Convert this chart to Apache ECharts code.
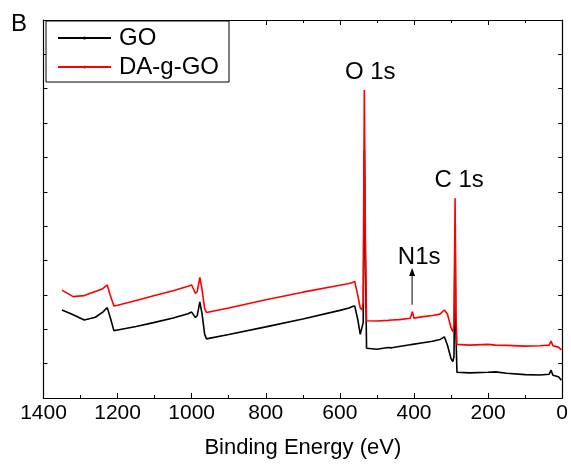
<!DOCTYPE html>
<html><head><meta charset="utf-8">
<script src="https://cdn.jsdelivr.net/npm/echarts@6/dist/echarts.min.js"></script>
<style>html,body{margin:0;padding:0;background:#fff}#c{width:571px;height:466px}</style>
</head><body><div id="c"></div>
<script>
const energy = [1350,1320,1290,1260,1240,1228,1220,1210,1200,1150,1100,1050,1010,1000,990,985,978,972,965,960,900,800,700,600,575,566,560,552,545,540,537,534,531,528,525,500,470,465,460,440,410,404,400,380,350,330,318,310,300,295,292,289,287,284,280,250,200,180,150,100,60,35,30,25,10,2];
const goVals = [2.56,2.42,2.27,2.35,2.50,2.63,2.35,1.96,1.98,2.08,2.20,2.33,2.45,2.50,2.34,2.40,2.80,2.45,1.85,1.72,1.85,2.07,2.30,2.55,2.62,2.66,2.68,2.30,1.85,1.80,2.2,7.2,4.0,1.45,1.40,1.42,1.47,1.52,1.46,1.50,1.55,1.56,1.56,1.60,1.65,1.70,1.78,1.55,1.15,1.06,1.2,5.0,2.0,0.75,0.72,0.73,0.75,0.76,0.72,0.68,0.67,0.69,0.81,0.66,0.62,0.52];
const daVals = [3.14,2.95,2.98,3.10,3.18,3.29,3.00,2.68,2.70,2.84,2.98,3.12,3.25,3.29,3.04,3.10,3.51,3.15,2.60,2.49,2.62,2.86,3.08,3.28,3.33,3.36,3.39,3.0,2.62,2.56,2.8,8.96,4.5,2.25,2.22,2.24,2.26,2.26,2.27,2.28,2.32,2.51,2.32,2.36,2.40,2.44,2.56,2.45,2.05,1.93,2.1,5.81,2.5,1.56,1.54,1.54,1.56,1.54,1.53,1.51,1.52,1.54,1.66,1.52,1.48,1.40];
const seriesNames = ['GO','DA-g-GO'];
const xTicks = [0,200,400,600,800,1000,1200,1400];
const annotations = [
  {text:'O 1s', x:518, y:9.49},
  {text:'C 1s', x:278, y:6.32},
  {text:'N1s', x:386, y:4.09}
];
const arrowFrom = [405, 2.71], arrowTo = [405, 3.78];

const FONT = 'Liberation Sans, Arial, sans-serif';
const chart = echarts.init(document.getElementById('c'));
const pair = v => energy.map((e,i)=>[e,v[i]]);
const axisCommon = {
  type:'value', min:0, max:1400, interval:200, inverse:true,
  axisLine:{show:true, onZero:false, lineStyle:{color:'#000', width:1.2}},
  axisTick:{show:true, inside:true, length:5, lineStyle:{color:'#000'}},
  minorTick:{show:true, splitNumber:2, length:3, lineStyle:{color:'#000'}},
  splitLine:{show:false}
};
const yCommon = {
  type:'value', min:0, max:11, interval:1,
  axisLine:{show:true, onZero:false, lineStyle:{color:'#000', width:1.2}},
  axisTick:{show:true, inside:true, length:4, lineStyle:{color:'#000'}},
  axisLabel:{show:false}, splitLine:{show:false}
};
chart.setOption({
  animation:false,
  backgroundColor:'#fff',
  grid:{left:43.5, right:8, top:20, bottom:68},
  xAxis:[
    Object.assign({}, axisCommon, {position:'bottom',
      axisLabel:{fontSize:21, color:'#000', fontFamily:FONT, margin:5, formatter:v=>String(v)},
      name:'Binding Energy (eV)', nameLocation:'middle', nameGap:39,
      nameTextStyle:{fontSize:22, color:'#000', fontFamily:FONT}}),
    Object.assign({}, axisCommon, {position:'top', axisLabel:{show:false}})
  ],
  yAxis:[
    Object.assign({}, yCommon, {position:'left'}),
    Object.assign({}, yCommon, {position:'right'})
  ],
  legend:{
    left:46, top:21, orient:'vertical', backgroundColor:'#fff',
    borderColor:'#000', borderWidth:1, padding:[5,10,3,11], itemGap:5,
    itemWidth:53, itemHeight:4,
    textStyle:{fontSize:24, color:'#000', fontFamily:FONT, lineHeight:24, padding:[0,0,0,3]},
    data:seriesNames
  },
  series:[
    {name:seriesNames[0], type:'line', data:pair(goVals), symbol:'circle', symbolSize:3, showSymbol:false,
     color:'#000', lineStyle:{color:'#000', width:1.6}, z:2},
    {name:seriesNames[1], type:'line', data:pair(daVals), symbol:'circle', symbolSize:3, showSymbol:false,
     color:'#ff0000', lineStyle:{color:'#ff0000', width:1.6}, z:3}
  ]
});
const g = [];
annotations.forEach(a=>{
  const p = chart.convertToPixel({xAxisIndex:0, yAxisIndex:0}, [a.x, a.y]);
  g.push({type:'text', x:p[0], y:p[1], style:{text:a.text, fontSize:24, fontFamily:FONT, fill:'#000', align:'center', verticalAlign:'middle'}, z:10});
});
const p1 = chart.convertToPixel({xAxisIndex:0, yAxisIndex:0}, arrowFrom);
const p2 = chart.convertToPixel({xAxisIndex:0, yAxisIndex:0}, arrowTo);
g.push({type:'line', shape:{x1:p1[0], y1:p1[1], x2:p2[0], y2:p2[1]+6}, style:{stroke:'#555', lineWidth:1.5}, z:10});
g.push({type:'polygon', shape:{points:[[p2[0],p2[1]],[p2[0]-3,p2[1]+8],[p2[0]+3,p2[1]+8]]}, style:{fill:'#000'}, z:10});
g.push({type:'text', x:19, y:24, style:{text:'B', fontSize:24, fontFamily:FONT, fill:'#000', align:'center', verticalAlign:'middle'}, z:10});
chart.setOption({graphic:g});
</script></body></html>
